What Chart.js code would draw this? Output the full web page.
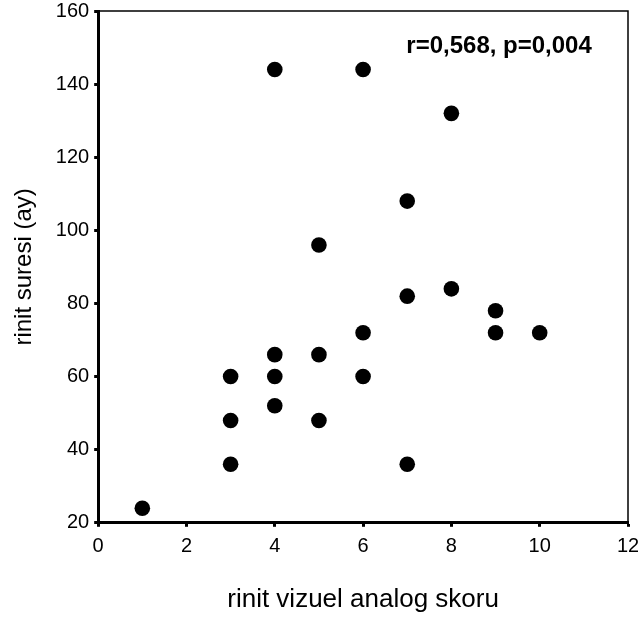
<!DOCTYPE html>
<html>
<head>
<meta charset="utf-8">
<script src="https://cdn.jsdelivr.net/npm/chart.js@4.4.1/dist/chart.umd.min.js"></script>
<style>
  html, body { margin: 0; padding: 0; background: #fff; }
  #wrap { width: 638px; height: 619px; }
</style>
</head>
<body>
<div id="wrap"><canvas id="chart"></canvas></div>
<script>
const vasScores = [1, 3, 3, 3, 4, 4, 4, 4, 5, 5, 5, 6, 6, 6, 7, 7, 7, 8, 8, 9, 9, 10];
const rhinitisMonths = [24, 60, 48, 36, 144, 66, 60, 52, 96, 66, 48, 144, 72, 60, 108, 82, 36, 132, 84, 78, 72, 72];
const xTicks = [0, 2, 4, 6, 8, 10, 12];
const yTicks = [20, 40, 60, 80, 100, 120, 140, 160];
const xTitle = 'rinit vizuel analog skoru';
const yTitle = 'rinit suresi (ay)';
const statsText = 'r=0,568, p=0,004';
const statsPos = [9.08, 150.4]; // veri koordinatlarında

const FONT = '"Liberation Sans", Arial, Helvetica, sans-serif';
Chart.defaults.color = '#000';
Chart.defaults.font.family = FONT;

const points = vasScores.map((x, i) => ({ x: x, y: rhinitisMonths[i] }));

// üst ve sağ çerçeve çizgisi + r / p etiketi
const frameAndLabel = {
    id: 'frameAndLabel',
    afterDatasetsDraw(chart) {
        const { ctx, scales, chartArea: a } = chart;
        ctx.save();
        ctx.strokeStyle = '#000';
        ctx.lineWidth = 1.5;
        ctx.beginPath();
        ctx.moveTo(a.left, a.top);
        ctx.lineTo(a.right, a.top);
        ctx.lineTo(a.right, a.bottom);
        ctx.stroke();

        ctx.font = 'bold 24px ' + FONT;
        ctx.fillStyle = '#000';
        ctx.textAlign = 'center';
        ctx.textBaseline = 'middle';
        ctx.fillText(statsText, scales.x.getPixelForValue(statsPos[0]), scales.y.getPixelForValue(statsPos[1]));
        ctx.restore();
    }
};

const tickMarks = { display: true, drawOnChartArea: false, drawTicks: true, tickLength: 4, tickWidth: 3, tickColor: '#000' };

new Chart(document.getElementById('chart'), {
    type: 'scatter',
    data: {
        datasets: [{
            data: points,
            pointStyle: 'circle',
            pointRadius: 7.8,
            pointHoverRadius: 7.8,
            pointBorderWidth: 0,
            backgroundColor: '#000',
            borderColor: '#000'
        }]
    },
    options: {
        responsive: true,
        maintainAspectRatio: false,
        animation: false,
        events: [],
        layout: { padding: 0 },
        plugins: { legend: { display: false }, tooltip: { enabled: false } },
        scales: {
            x: {
                type: 'linear',
                min: xTicks[0],
                max: xTicks[xTicks.length - 1],
                afterBuildTicks: s => { s.ticks = xTicks.map(v => ({ value: v })); },
                afterFit: s => { s.paddingRight = 10; },
                ticks: { font: { size: 20 }, padding: 8, maxRotation: 0 },
                grid: tickMarks,
                border: { display: true, width: 3, color: '#000' },
                title: { display: true, text: xTitle, font: { size: 26 }, padding: { top: 17, bottom: 4 } }
            },
            y: {
                type: 'linear',
                min: yTicks[0],
                max: yTicks[yTicks.length - 1],
                afterBuildTicks: s => { s.ticks = yTicks.map(v => ({ value: v })); },
                afterFit: s => { s.paddingTop = 11; },
                ticks: { font: { size: 20 }, padding: 5 },
                grid: tickMarks,
                border: { display: true, width: 3, color: '#000' },
                title: { display: true, text: yTitle, font: { size: 24 }, padding: { top: 10, bottom: 12 } }
            }
        }
    },
    plugins: [frameAndLabel]
});
</script>
</body>
</html>
